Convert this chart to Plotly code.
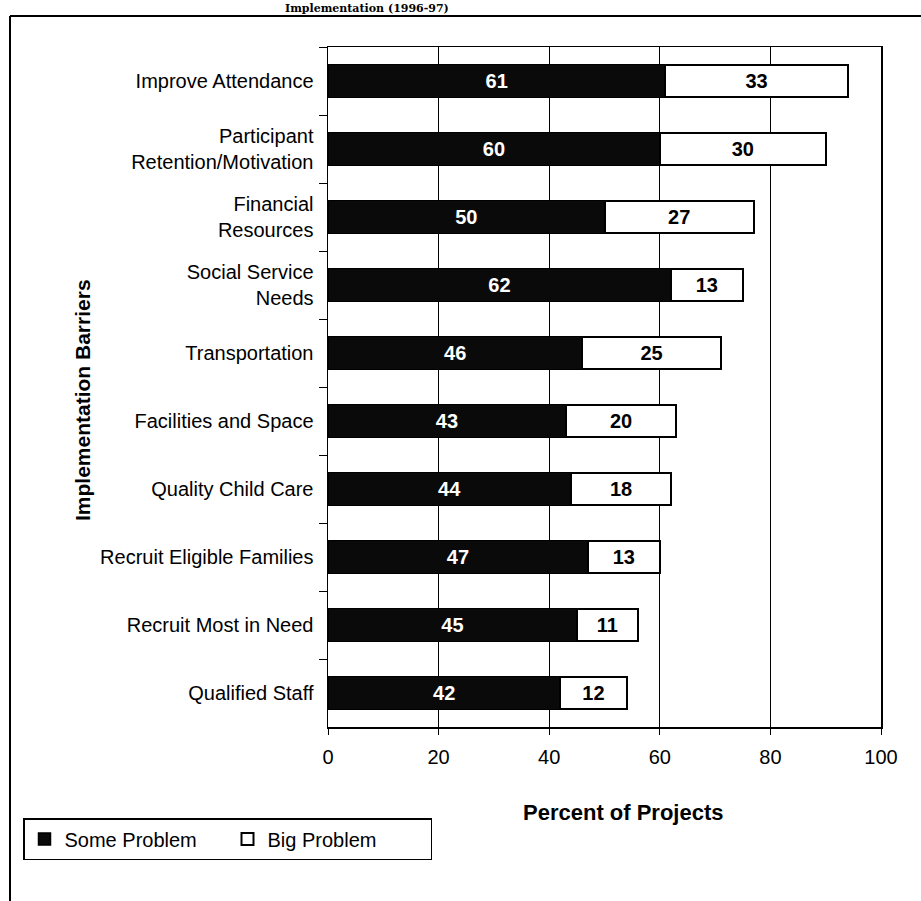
import plotly.graph_objects as go

categories = [
    "Improve Attendance",
    "Participant<br>Retention/Motivation",
    "Financial<br>Resources",
    "Social Service<br>Needs",
    "Transportation",
    "Facilities and Space",
    "Quality Child Care",
    "Recruit Eligible Families",
    "Recruit Most in Need",
    "Qualified Staff",
]
some_problem = [61, 60, 50, 62, 46, 43, 44, 47, 45, 42]
big_problem = [33, 30, 27, 13, 25, 20, 18, 13, 11, 12]
x_ticks = [0, 20, 40, 60, 80, 100]

W, H = 921, 901
L, R, T, B = 328, 881, 47, 727
pw, ph = R - L, B - T


def px(x):
    return (x - L) / pw


def py(y):
    return (B - y) / ph


FONT = "Liberation Sans, Arial, sans-serif"

fig = go.Figure()
fig.add_trace(go.Bar(
    y=categories, x=some_problem, orientation="h", name="Some Problem",
    marker=dict(color="#0a0a0a", line=dict(color="#000", width=1.5)),
    text=[str(v) for v in some_problem], textposition="inside",
    insidetextanchor="middle", textangle=0, constraintext="none",
    textfont=dict(color="white", size=20, family=FONT, weight="bold"),
))
fig.add_trace(go.Bar(
    y=categories, x=big_problem, orientation="h", name="Big Problem",
    marker=dict(color="white", line=dict(color="#000", width=2)),
    text=[str(v) for v in big_problem], textposition="inside",
    insidetextanchor="middle", textangle=0, constraintext="none",
    textfont=dict(color="black", size=20, family=FONT, weight="bold"),
))

fig.update_layout(
    width=W, height=H,
    margin=dict(l=L, r=W - R, t=T, b=H - B, pad=0),
    barmode="stack", bargap=0.515,
    paper_bgcolor="white", plot_bgcolor="white",
    font=dict(family=FONT, size=20, color="black"),
    showlegend=True,
    legend=dict(
        orientation="h", x=px(23), y=py(818), xanchor="left", yanchor="top",
        bgcolor="white", bordercolor="black", borderwidth=1.5,
        font=dict(size=20, family=FONT, color="black"),
        entrywidth=158, entrywidthmode="pixels", traceorder="normal",
    ),
    xaxis=dict(
        range=[0, 100], tickvals=x_ticks, ticktext=[str(v) for v in x_ticks],
        showgrid=True, gridcolor="black", gridwidth=1,
        showline=True, linecolor="black", linewidth=1.5, mirror=True,
        ticks="outside", ticklen=6, tickcolor="black", ticklabelstandoff=5,
        tickfont=dict(size=20, family=FONT), zeroline=False,
        fixedrange=True,
    ),
    yaxis=dict(
        categoryorder="array", categoryarray=categories, autorange="reversed",
        showline=True, linecolor="black", linewidth=1.5, mirror=True,
        ticks="outside", ticklen=8, tickcolor="black", tickson="boundaries",
        tickfont=dict(size=20, family=FONT), ticklabelstandoff=9,
        showgrid=False, fixedrange=True,
    ),
    annotations=[
        dict(text="<b>Percent of Projects</b>", xref="paper", yref="paper",
             x=px(623), y=py(812), showarrow=False, xanchor="center", yanchor="middle",
             font=dict(size=22, family=FONT, color="black")),
        dict(text="<b>Implementation Barriers</b>", xref="paper", yref="paper",
             x=px(83), y=py(400), showarrow=False, xanchor="center", yanchor="middle",
             textangle=-90, font=dict(size=21, family=FONT, color="black")),
        dict(text="<b>Implementation (1996-97)</b>", xref="paper", yref="paper",
             x=px(367), y=py(1), showarrow=False, xanchor="center", yanchor="top",
             borderpad=0,
             font=dict(size=11, family="DejaVu Serif, Liberation Serif, serif", color="black")),
    ],
    shapes=[
        dict(type="line", xref="paper", yref="paper", x0=px(10), x1=px(921),
             y0=py(16), y1=py(16), line=dict(color="black", width=2)),
        dict(type="line", xref="paper", yref="paper", x0=px(10), x1=px(10),
             y0=py(16), y1=py(905), line=dict(color="black", width=2)),
    ],
)

fig.write_html(
    "out.html",
    config={"displayModeBar": False, "staticPlot": True},
    post_script="document.body.style.margin='0';document.body.style.overflow='hidden';",
)
